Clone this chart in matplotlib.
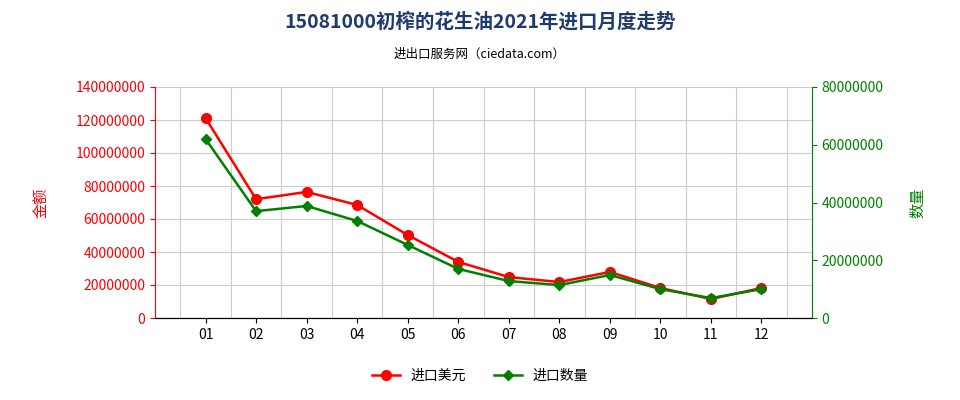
import numpy as np
import matplotlib.pyplot as plt

plt.rcParams['font.family'] = ['Noto Sans CJK SC', 'DejaVu Sans']

months = ['01', '02', '03', '04', '05', '06', '07', '08', '09', '10', '11', '12']
value_usd = [121.2e6, 72.0e6, 76.4e6, 68.5e6, 50.3e6, 34.0e6, 24.8e6, 21.8e6, 27.9e6, 18.2e6, 11.5e6, 18.2e6]
quantity = [62.0e6, 37.0e6, 38.8e6, 33.6e6, 25.3e6, 17.0e6, 12.8e6, 11.4e6, 14.9e6, 10.0e6, 6.9e6, 10.0e6]

x = np.arange(len(months))

fig = plt.figure(figsize=(9.6, 4.0), dpi=100)
ax = fig.add_axes([155 / 960, 82 / 400, 657 / 960, 231 / 400])
ax2 = ax.twinx()

ax.plot(x, value_usd, color='#ff0000', marker='o', markersize=7, lw=1.8, label='进口美元', zorder=3)
ax2.plot(x, quantity, color='#008000', marker='D', markersize=5, lw=1.8, label='进口数量', zorder=3)

ax.set_xlim(-1, 12)
ax.set_ylim(0, 140e6)
ax2.set_ylim(0, 80e6)
ax.set_xticks(x)
ax.set_xticklabels(months)
ax.set_xticks(np.arange(-0.5, 12, 1), minor=True)
ax.set_yticks(np.arange(0, 140e6 + 1, 20e6))
ax.set_yticklabels([f'{int(v)}' for v in np.arange(0, 140e6 + 1, 20e6)])
ax2.set_yticks(np.arange(0, 80e6 + 1, 20e6))
ax2.set_yticklabels([f'{int(v)}' for v in np.arange(0, 80e6 + 1, 20e6)])

ax.grid(True, which='minor', axis='x', color='#cccccc', lw=0.8)
ax.grid(True, which='major', axis='y', color='#cccccc', lw=0.8)
ax.tick_params(axis='x', which='minor', length=0)
ax.tick_params(axis='y', colors='#ff0000', labelsize=10)
ax2.tick_params(axis='y', colors='#008000', labelsize=10)
ax.tick_params(axis='x', labelsize=10)
for s in ['top']:
    ax.spines[s].set_visible(False)
    ax2.spines[s].set_visible(False)
ax.spines['left'].set_color('#ff0000')
ax2.spines['left'].set_visible(False)
ax2.spines['right'].set_color('#008000')
ax.spines['right'].set_visible(False)

ax.set_ylabel('金额', color='#ff0000', fontsize=11, labelpad=18)
ax2.set_ylabel('数量', color='#008000', fontsize=11, labelpad=18)

fig.text(0.5, 0.945, '15081000初榨的花生油2021年进口月度走势', ha='center', va='center',
         fontsize=14, fontweight='bold', color='#1f3a6e')
fig.text(0.5, 0.865, '进出口服务网（ciedata.com）', ha='center', va='center', fontsize=9)

h1, l1 = ax.get_legend_handles_labels()
h2, l2 = ax2.get_legend_handles_labels()
fig.legend(h1 + h2, l1 + l2, loc='center', bbox_to_anchor=(0.5, 0.06), ncol=2,
           frameon=False, fontsize=10)

fig.savefig('out.png', dpi=100)
